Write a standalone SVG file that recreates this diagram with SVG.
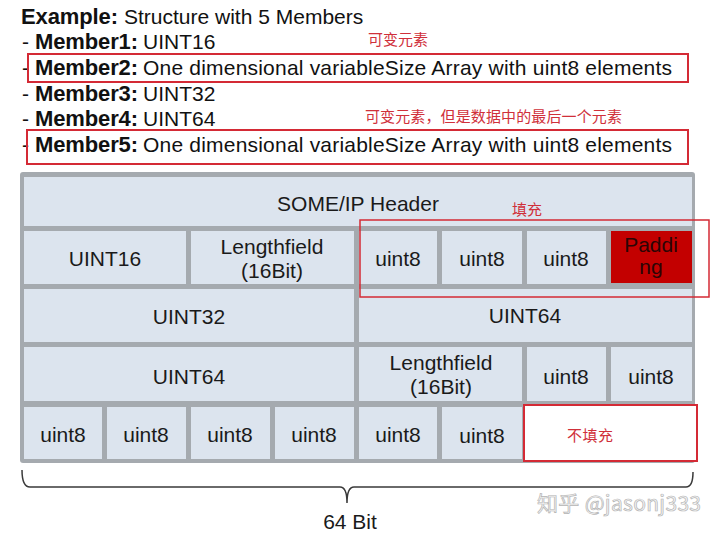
<svg xmlns="http://www.w3.org/2000/svg" width="720" height="536" viewBox="0 0 720 536">
<style>
.t{font-family:"Liberation Sans",Arial,sans-serif;font-size:21px;fill:#111}
.b{font-weight:bold;font-size:22px}
.c{font-family:"Liberation Sans",Arial,sans-serif;font-size:21px;fill:#1a1a1a;text-anchor:middle}
.cell{fill:#dce4ee}
.red{font-family:"Noto Sans CJK SC",sans-serif;font-size:15px;fill:#d0303a}
.rbox{fill:none;stroke:#d42a35;stroke-width:2}
</style>
<rect width="720" height="536" fill="#ffffff"/>
<g id="title">
<text class="t b" x="21" y="24" textLength="97">Example:</text>
<text class="t" x="124" y="24">Structure with 5 Members</text>
<text class="t" x="22" y="49">-</text><text class="t b" x="35" y="49" textLength="103">Member1:</text>
<text class="t" x="143" y="49">UINT16</text>
<text class="t" x="22" y="75">-</text><text class="t b" x="35" y="75" textLength="103">Member2:</text>
<text class="t" x="143" y="75" textLength="529" lengthAdjust="spacing">One dimensional variableSize Array with uint8 elements</text>
<text class="t" x="22" y="101">-</text><text class="t b" x="35" y="101" textLength="103">Member3:</text>
<text class="t" x="143" y="101">UINT32</text>
<text class="t" x="22" y="126">-</text><text class="t b" x="35" y="126" textLength="103">Member4:</text>
<text class="t" x="143" y="126">UINT64</text>
<text class="t" x="22" y="152">-</text><text class="t b" x="35" y="152" textLength="103">Member5:</text>
<text class="t" x="143" y="152" textLength="529" lengthAdjust="spacing">One dimensional variableSize Array with uint8 elements</text>
<rect class="rbox" x="28" y="54" width="660" height="28"/>
<rect class="rbox" x="27" y="130" width="661" height="34"/>
<text class="red" x="368" y="45" textLength="60">可变元素</text>
<text class="red" x="365" y="122" textLength="257">可变元素，但是数据中的最后一个元素</text>
</g>
<g id="frame">
<rect x="20" y="172" width="675" height="291" rx="3" fill="#a5aaaf"/>
</g>
<g id="header"><rect class="cell" x="24" y="177" width="668" height="49"/><text class="c" x="358" y="211">SOME/IP Header</text></g>
<g id="r1-uint16"><rect class="cell" x="24" y="231" width="162" height="53"/><text class="c" x="105" y="266">UINT16</text></g>
<g id="r1-length"><rect class="cell" x="191" y="231" width="163" height="53"/><text class="c" x="272" y="254">Lengthfield</text><text class="c" x="272" y="278">(16Bit)</text></g>
<g id="r1-u8a"><rect class="cell" x="359" y="231" width="78" height="53"/><text class="c" x="398" y="266">uint8</text></g>
<g id="r1-u8b"><rect class="cell" x="442" y="231" width="80" height="53"/><text class="c" x="482" y="266">uint8</text></g>
<g id="r1-u8c"><rect class="cell" x="527" y="231" width="79" height="53"/><text class="c" x="566" y="266">uint8</text></g>
<g id="r1-padding"><rect x="611" y="231" width="81" height="52" fill="#c30000"/><text class="c" x="651" y="252" style="fill:#2b0505">Paddi</text><text class="c" x="651" y="274" style="fill:#2b0505">ng</text></g>
<g id="r2-uint32"><rect class="cell" x="24" y="289" width="330" height="53"/><text class="c" x="189" y="324">UINT32</text></g>
<g id="r2-uint64"><rect class="cell" x="359" y="289" width="333" height="53"/><text class="c" x="525" y="323">UINT64</text></g>
<g id="r3-uint64"><rect class="cell" x="24" y="347" width="330" height="54"/><text class="c" x="189" y="384">UINT64</text></g>
<g id="r3-length"><rect class="cell" x="359" y="347" width="163" height="54"/><text class="c" x="441" y="370">Lengthfield</text><text class="c" x="441" y="394">(16Bit)</text></g>
<g id="r3-u8a"><rect class="cell" x="527" y="347" width="79" height="54"/><text class="c" x="566" y="384">uint8</text></g>
<g id="r3-u8b"><rect class="cell" x="611" y="347" width="81" height="54"/><text class="c" x="651" y="384">uint8</text></g>
<g id="r4-u8a"><rect class="cell" x="24" y="407" width="78" height="52"/><text class="c" x="63" y="442">uint8</text></g>
<g id="r4-u8b"><rect class="cell" x="107" y="407" width="79" height="52"/><text class="c" x="146" y="442">uint8</text></g>
<g id="r4-u8c"><rect class="cell" x="191" y="407" width="79" height="52"/><text class="c" x="230" y="442">uint8</text></g>
<g id="r4-u8d"><rect class="cell" x="275" y="407" width="79" height="52"/><text class="c" x="314" y="442">uint8</text></g>
<g id="r4-u8e"><rect class="cell" x="359" y="407" width="78" height="52"/><text class="c" x="398" y="442">uint8</text></g>
<g id="r4-u8f"><rect class="cell" x="442" y="407" width="80" height="52"/><text class="c" x="482" y="443">uint8</text></g>
<g id="no-padding"><rect x="524" y="405" width="173" height="56" fill="#ffffff" stroke="#d42a35" stroke-width="2"/><text class="red" x="567" y="441" textLength="46">不填充</text></g>
<g id="padding-note"><rect x="360" y="220" width="349" height="77" fill="none" stroke="#d42a35" stroke-width="1.5"/><text class="red" x="512" y="215" textLength="30">填充</text></g>
<g id="connectors">
<path d="M22,470 Q22,487 30,487 L340,487 Q347,487 347,503 Q347,487 354,487 L686,487 Q693,487 693,472" fill="none" stroke="#3a3a3a" stroke-width="1.5"/>
</g>
<g id="label-64">
<text class="c" x="350" y="529">64 Bit</text>
</g>
<g id="watermark">
<text x="537" y="511" textLength="164" font-family="'Noto Sans CJK SC','Liberation Sans',sans-serif" font-size="21" fill="#f4f4f4" stroke="#b4b4b4" stroke-width="0.7">知乎 @jasonj333</text>
</g>
</svg>
